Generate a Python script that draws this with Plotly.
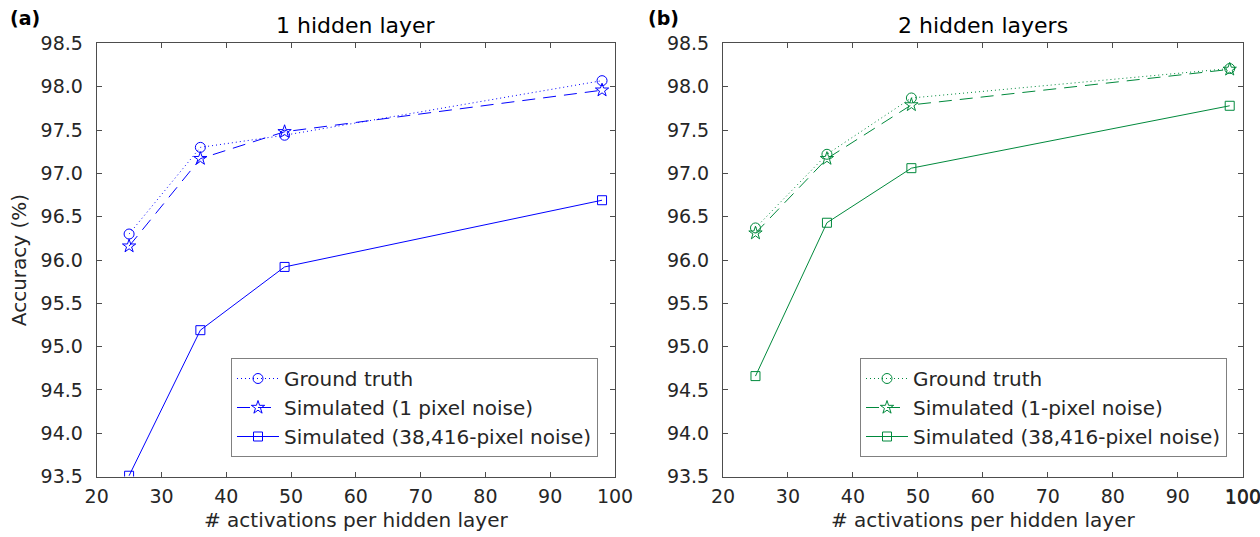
import plotly.graph_objects as go

activations = [25, 36, 49, 98]

# (a) 1 hidden layer
gt_1 = [96.30, 97.30, 97.44, 98.07]
sim1_1 = [96.16, 97.17, 97.48, 97.96]
sim38_1 = [93.51, 95.19, 95.92, 96.69]

# (b) 2 hidden layers
gt_2 = [96.37, 97.22, 97.87, 98.21]
sim1_2 = [96.31, 97.17, 97.79, 98.20]
sim38_2 = [94.66, 96.43, 97.06, 97.78]

labels_1 = ["Ground truth", "Simulated (1 pixel noise)", "Simulated (38,416-pixel noise)"]
labels_2 = ["Ground truth", "Simulated (1-pixel noise)", "Simulated (38,416-pixel noise)"]

x_max = 100

BLUE = "#0000ff"
GREEN = "#00893c"
FONT = "DejaVu Sans"
AXC = "#4d4d4d"
TXT = "#262626"

W, H = 1260, 537
fig = go.Figure()

styles = [("1px,3px", "circle-open", 10), ("13px,8px", "star-open", 10), ("solid", "square-open", 9)]

for series, labels, color, xa, ya, lg in [
    ((gt_1, sim1_1, sim38_1), labels_1, BLUE, "x", "y", "legend"),
    ((gt_2, sim1_2, sim38_2), labels_2, GREEN, "x2", "y2", "legend2"),
]:
    for vals, name, (dash, sym, size) in zip(series, labels, styles):
        fig.add_trace(go.Scatter(
            x=activations, y=vals, name=name, mode="lines+markers",
            line=dict(color=color, width=1, dash=dash),
            marker=dict(symbol=sym, size=size, color=color, line=dict(color=color, width=1)),
            xaxis=xa, yaxis=ya, legend=lg,
        ))

def xd(a, b):
    return [a / W, b / W]

ydom = [1 - 476.6 / H, 1 - 43.4 / H]

axis_common = dict(
    showline=True, linecolor=AXC, linewidth=1, mirror="ticks",
    ticks="inside", ticklen=5, tickcolor=AXC, showgrid=False, zeroline=False,
    tickfont=dict(family=FONT, size=19, color=TXT), automargin=False,
    ticklabeloverflow="allow",
)

xtitle = dict(text="# activations per hidden layer", font=dict(size=20, color=TXT), standoff=6)

fig.update_layout(
    width=W, height=H, margin=dict(l=0, r=0, t=0, b=0, autoexpand=False),
    paper_bgcolor="white", plot_bgcolor="white",
    font=dict(family=FONT, color=TXT),
    xaxis=dict(domain=xd(96.7, 615), range=[20, x_max], dtick=10, anchor="y",
               ticklabelstandoff=3, title=xtitle, **axis_common),
    yaxis=dict(domain=ydom, range=[93.5, 98.5], dtick=0.5, tickformat=".1f", anchor="x",
               ticklabelstandoff=9,
               title=dict(text="Accuracy (%)", font=dict(size=20, color=TXT), standoff=8),
               **axis_common),
    xaxis2=dict(domain=xd(723, 1242.7), range=[20, x_max], dtick=10, anchor="y2",
                ticklabelstandoff=3, title=xtitle, **axis_common),
    yaxis2=dict(domain=ydom, range=[93.5, 98.5], dtick=0.5, tickformat=".1f", anchor="x2",
                ticklabelstandoff=9, **axis_common),
    legend=dict(x=598 / W, xanchor="right", y=1 - 457 / H, yanchor="bottom",
                bgcolor="white", bordercolor="#808080", borderwidth=1, itemwidth=42,
                font=dict(family=FONT, size=20, color=TXT), tracegroupgap=0),
    legend2=dict(x=1227 / W, xanchor="right", y=1 - 457 / H, yanchor="bottom",
                 bgcolor="white", bordercolor="#808080", borderwidth=1, itemwidth=42,
                 font=dict(family=FONT, size=20, color=TXT), tracegroupgap=0),
    annotations=[
        dict(text="1 hidden layer", x=(96.7 + 615) / 2 / W, y=1 - 25 / H, xref="paper", yref="paper",
             xanchor="center", yanchor="middle",
             showarrow=False, font=dict(size=22, color="black", family=FONT)),
        dict(text="2 hidden layers", x=(723 + 1242.7) / 2 / W, y=1 - 25 / H, xref="paper", yref="paper",
             xanchor="center", yanchor="middle",
             showarrow=False, font=dict(size=22, color="black", family=FONT)),
        dict(text="<b>(a)</b>", x=8 / W, y=1 - 18 / H, xref="paper", yref="paper",
             xanchor="left", yanchor="middle",
             showarrow=False, font=dict(size=19, color="black", family=FONT)),
        dict(text="<b>(b)</b>", x=646 / W, y=1 - 18 / H, xref="paper", yref="paper",
             xanchor="left", yanchor="middle",
             showarrow=False, font=dict(size=19, color="black", family=FONT)),
        # last tick label of the right axis, which plotly drops because it overflows the page edge
        dict(text=str(x_max), x=x_max, xref="x2", y=1 - 497 / H, yref="paper",
             xanchor="center", yanchor="middle",
             showarrow=False, font=dict(size=19, color=TXT, family=FONT)),
    ],
)

fig.write_html("out.html")
